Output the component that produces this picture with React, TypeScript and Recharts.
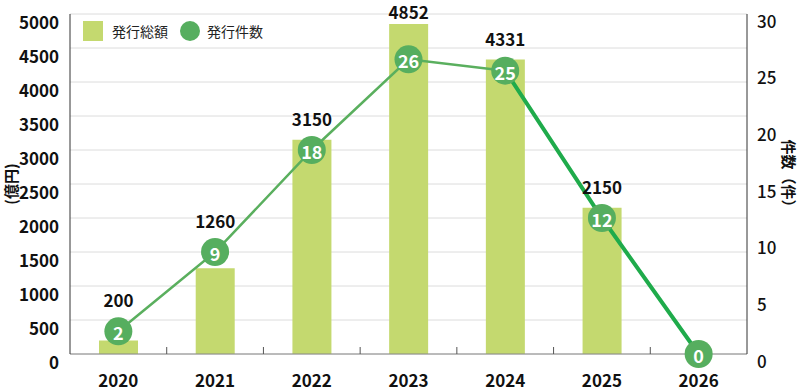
import {
  ComposedChart,
  Bar,
  Line,
  XAxis,
  YAxis,
  CartesianGrid,
  Legend,
  LabelList,
  Label,
} from "recharts";

const years = ["2020", "2021", "2022", "2023", "2024", "2025", "2026"];
const amounts = [200, 1260, 3150, 4852, 4331, 2150, 0]; // 発行総額 (億円)
const counts = [2, 9, 18, 26, 25, 12, 0]; // 発行件数 (件)
const lastSolidIndex = 4; // thin line up to here, thick line after
const amountTicks = [0, 500, 1000, 1500, 2000, 2500, 3000, 3500, 4000, 4500, 5000];
const countTicks = [0, 5, 10, 15, 20, 25, 30];
const legendLabels = ["発行総額", "発行件数"];

const W = 800;
const H = 391;
const TOP = 14;
const BOTTOM = 354;
const LEFT = 70;
const RIGHT = 747;
const COUNT_MAX = 30;

const FONT = "'Noto Sans CJK JP', 'Noto Sans', sans-serif";
const NUM_SIZE = 17;
const BAR_COLOR = "#c4d96f";
const DOT_COLOR = "#56ae5f";
const LINE_THIN = "#5aaf5e";
const LINE_THICK = "#1fab4b";

const data = years.map((year, i) => ({
  year,
  amount: amounts[i],
  count: counts[i],
  past: i <= lastSolidIndex ? counts[i] : null,
  future: i >= lastSolidIndex ? counts[i] : null,
}));

const XTick = (props: any) => {
  const { x, payload, index } = props;
  const band = (RIGHT - LEFT) / years.length;
  return (
    <g>
      {index > 0 && (
        <line x1={x - band / 2} x2={x - band / 2} y1={BOTTOM - 7} y2={BOTTOM} stroke="#555" />
      )}
      <text
        x={x}
        y={BOTTOM + 25}
        textAnchor="middle"
        dominantBaseline="central"
        fontFamily={FONT}
        fontWeight={700}
        fontSize={NUM_SIZE}
        fill="#111"
      >
        {payload.value}
      </text>
    </g>
  );
};

const LeftTick = (props: any) => {
  const { y, payload } = props;
  return (
    <text
      x={59}
      y={y + 7}
      textAnchor="end"
      dominantBaseline="central"
      fontFamily={FONT}
      fontWeight={700}
      fontSize={NUM_SIZE}
      fill="#111"
    >
      {payload.value}
    </text>
  );
};

const RightTick = (props: any) => {
  const { y, payload } = props;
  return (
    <text
      x={RIGHT + 10}
      y={y + 6}
      textAnchor="start"
      dominantBaseline="central"
      fontFamily={FONT}
      fontWeight={500}
      fontSize={NUM_SIZE}
      fill="#111"
    >
      {payload.value}
    </text>
  );
};

// put the amount above whichever is higher: bar top or count marker
const AmountLabel = (props: any) => {
  const { x, y, width, value, index } = props;
  const markerTop = BOTTOM - (counts[index] / COUNT_MAX) * (BOTTOM - TOP) - 14;
  const top = Math.min(Number(y), markerTop);
  return (
    <text
      x={Number(x) + Number(width) / 2}
      y={Math.max(11, top - 18)}
      textAnchor="middle"
      dominantBaseline="central"
      fontFamily={FONT}
      fontWeight={700}
      fontSize={NUM_SIZE}
      fill="#111"
    >
      {value}
    </text>
  );
};

const CountDot = (props: any) => {
  const { cx, cy, payload, index } = props;
  return (
    <g key={`dot-${index}`}>
      <circle cx={cx} cy={cy} r={14} fill={DOT_COLOR} />
      <text
        x={cx}
        y={cy + 1}
        textAnchor="middle"
        dominantBaseline="central"
        fontFamily={FONT}
        fontWeight={700}
        fontSize={18}
        fill="#fff"
      >
        {payload.count}
      </text>
    </g>
  );
};

const LegendContent = () => (
  <div style={{ display: "flex", alignItems: "center", fontFamily: FONT, fontSize: 14, color: "#222" }}>
    <span style={{ width: 20, height: 20, background: BAR_COLOR, display: "inline-block" }} />
    <span style={{ marginLeft: 9 }}>{legendLabels[0]}</span>
    <span
      style={{
        width: 20,
        height: 20,
        borderRadius: 10,
        background: DOT_COLOR,
        display: "inline-block",
        marginLeft: 12,
      }}
    />
    <span style={{ marginLeft: 7 }}>{legendLabels[1]}</span>
  </div>
);

export default function App() {
  return (
    <div style={{ position: "absolute", left: 0, top: 0, width: W, height: H }}>
      <ComposedChart width={W} height={H} data={data} margin={{ top: TOP, right: 0, bottom: 0, left: 0 }}>
        <CartesianGrid vertical={false} stroke="#dcdcdc" yAxisId="left" />
        <XAxis
          dataKey="year"
          height={H - BOTTOM}
          interval={0}
          tickLine={false}
          axisLine={{ stroke: "#888" }}
          tick={<XTick />}
        />
        <YAxis
          yAxisId="left"
          width={LEFT}
          domain={[0, 5000]}
          ticks={amountTicks}
          interval={0}
          tickLine={false}
          axisLine={{ stroke: "#333" }}
          tick={<LeftTick />}
        >
          <Label
            content={() => (
              <text
                x={10}
                y={(TOP + BOTTOM) / 2}
                transform={`rotate(-90 10 ${(TOP + BOTTOM) / 2})`}
                textAnchor="middle"
                dominantBaseline="central"
                fontFamily={FONT}
                fontWeight={700}
                fontSize={15}
                fill="#111"
              >
                (億円)
              </text>
            )}
          />
        </YAxis>
        <YAxis
          yAxisId="right"
          orientation="right"
          width={W - RIGHT}
          domain={[0, COUNT_MAX]}
          ticks={countTicks}
          interval={0}
          tickLine={false}
          axisLine={{ stroke: "#333" }}
          tick={<RightTick />}
        >
          <Label
            content={() => (
              <text
                x={789}
                y={177}
                transform="rotate(90 789 177)"
                textAnchor="middle"
                dominantBaseline="central"
                fontFamily={FONT}
                fontWeight={700}
                fontSize={15}
                fill="#111"
              >
                件数（件）
              </text>
            )}
          />
        </YAxis>
        <Legend
          layout="horizontal"
          verticalAlign="middle"
          align="center"
          content={<LegendContent />}
          wrapperStyle={{ position: "absolute", left: 83, top: 21, width: 240, height: 20 }}
        />
        <Bar yAxisId="left" dataKey="amount" fill={BAR_COLOR} barSize={39} isAnimationActive={false}>
          <LabelList dataKey="amount" content={<AmountLabel />} />
        </Bar>
        <Line
          yAxisId="right"
          dataKey="future"
          stroke={LINE_THICK}
          strokeWidth={4}
          dot={false}
          activeDot={false}
          connectNulls={false}
          isAnimationActive={false}
        />
        <Line
          yAxisId="right"
          dataKey="past"
          stroke={LINE_THIN}
          strokeWidth={2.5}
          dot={false}
          activeDot={false}
          connectNulls={false}
          isAnimationActive={false}
        />
        <Line
          yAxisId="right"
          dataKey="count"
          stroke="none"
          dot={<CountDot />}
          activeDot={false}
          isAnimationActive={false}
        />
      </ComposedChart>
    </div>
  );
}
